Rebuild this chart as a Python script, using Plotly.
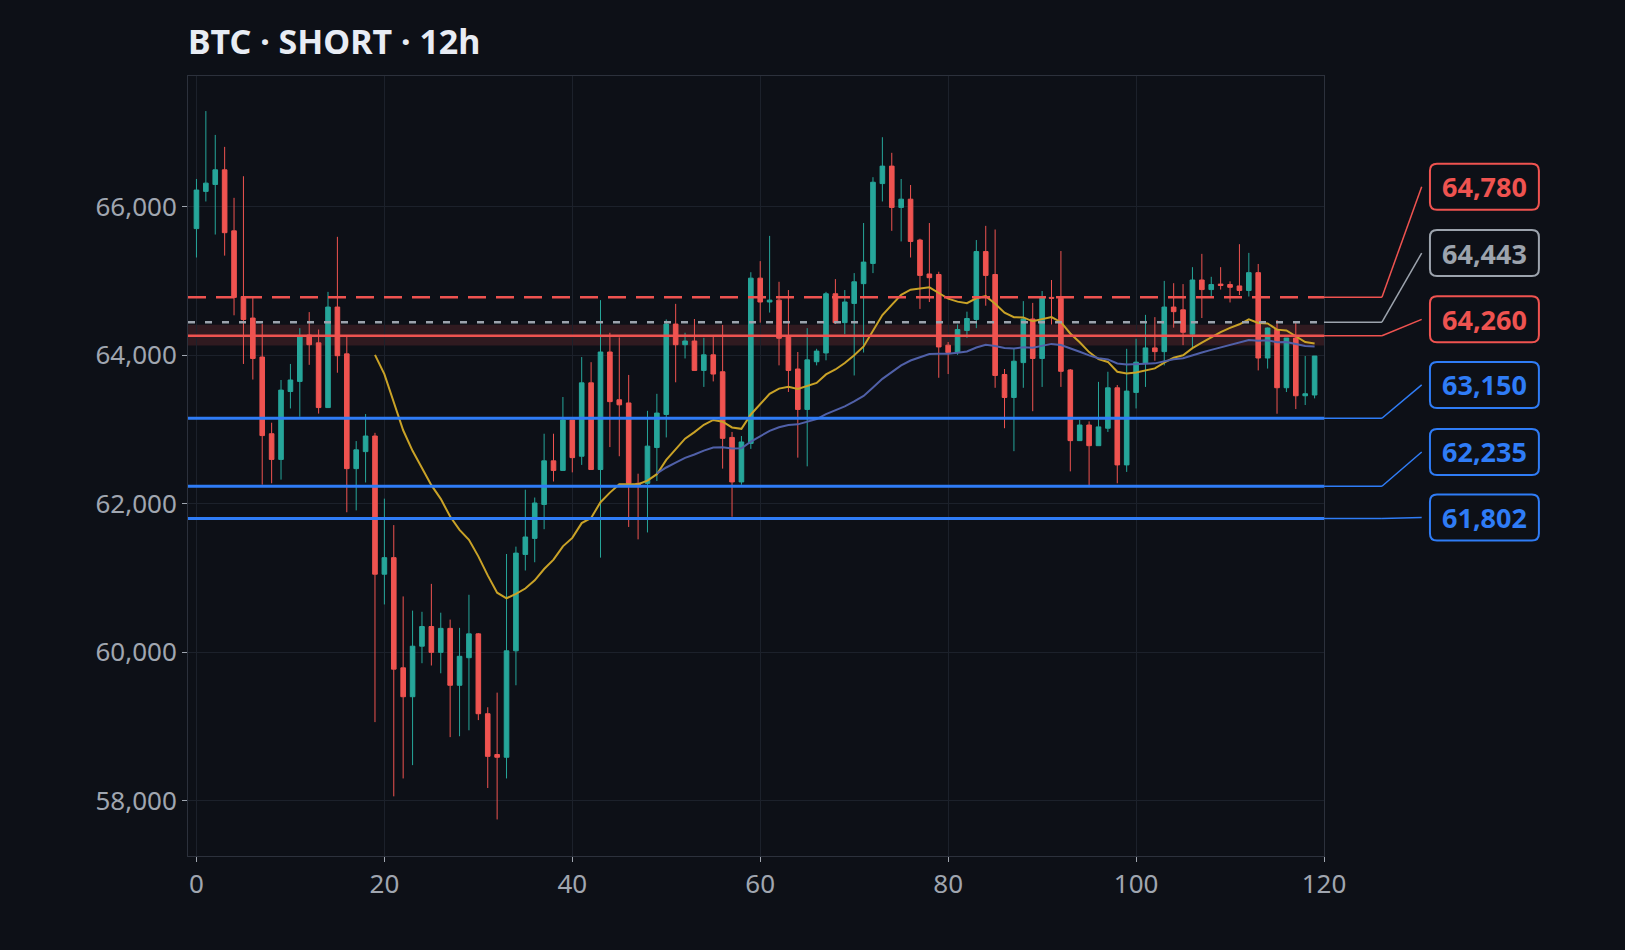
import plotly.graph_objects as go

opens = [65703,66204,66297,66494,65673,64789,64499,63974,62942,62596,63510,63646,64270,64165,63294,64647,64017,62472,62701,62911,
         61051,61274,59791,59402,60082,60347,59999,60322,59556,59927,60248,59173,58624,58587,60020,61317,61533,61990,62577,62448,
         63127,62639,63627,62460,64042,63399,63356,62274,62274,62756,63201,64418,64140,64190,63794,64004,63776,62892,62293,62812,
         65036,64715,64740,64251,63813,63269,63911,64029,64826,64437,64696,64962,65234,66309,66544,65988,66099,65549,65092,65085,
         64134,64035,64332,64480,65394,65085,63739,63430,63899,64486,63955,64777,64765,63800,62849,63059,62781,63016,63560,62522,
         63498,63887,64097,64047,64647,64610,64282,65011,64882,64956,64950,64931,64870,65110,63961,64347,63561,64230,63453,63463]
closes = [66222,66315,66494,65648,64777,64480,63955,62917,62596,63529,63665,64251,64140,63294,64647,63992,62472,62725,62911,61051,
          61274,59773,59402,60082,60347,59999,60322,59556,59946,60248,59173,58599,58587,60020,61335,61552,62009,62577,62448,63127,
          62620,63627,62460,64042,63374,63331,62274,62250,62775,63220,64418,64140,64190,63794,64004,63745,62880,62293,62831,65036,
          64715,64740,64227,63794,63269,63936,64054,64826,64437,64715,64987,65252,66327,66544,65988,66099,65530,65073,65042,64110,
          64035,64344,64493,65394,65073,63726,63430,63918,64486,63955,64777,64765,63782,62849,63059,62781,63034,63560,62522,63516,
          63905,64097,64047,64647,64585,64307,65011,64882,64950,64937,64913,64870,65110,63961,64365,63561,64230,63453,63480,63988]
highs = [66371,67285,66964,66803,66117,66408,64777,64418,63090,63665,63881,64363,64579,64344,64851,65592,64251,62843,63207,62954,
         62068,61712,60752,60561,60545,60921,60533,60440,60329,60774,60260,59260,59457,61323,61422,62188,62083,62942,62942,63436,
         63127,63974,63905,64740,64301,64239,63733,62404,63250,63479,64480,64690,64301,64486,64233,64270,64406,62966,62911,65116,
         65265,65605,64987,64876,64042,64363,64085,64851,65023,64876,65104,65778,66395,66933,66723,66371,66290,65567,65778,65122,
         64177,64412,64585,65549,65740,65691,63813,64085,64727,64703,64863,65011,65401,63813,63127,63108,63640,63776,63597,64085,
         64221,64542,64511,64999,64968,64956,65184,65363,65054,65184,64993,65493,65376,65227,64372,64472,64230,64436,63988,63988]
lows = [65314,66068,65623,65339,64536,63881,63671,62256,62275,62324,63282,63170,63869,63213,63294,63763,61885,61910,62286,59060,
        60644,58061,58302,58481,59853,59822,59717,58858,58870,58950,59087,58173,57750,58302,59556,61101,61212,61657,62299,62448,
        62422,62522,62460,61274,62762,62639,61687,61520,61613,62305,62892,63634,63955,63794,63572,63646,62472,61824,62256,62738,
        64437,64573,63862,63504,62620,62503,63862,63930,64418,64282,63726,64035,65104,66068,65673,65530,65314,64622,64715,63695,
        63745,64004,64233,64363,64665,63560,63016,62707,63560,63245,63572,64412,63572,62435,62849,62244,62781,62966,62275,62428,
        63282,63572,63924,63862,64369,64134,64097,64499,64789,64882,64709,64808,64789,63794,63819,63211,63503,63274,63328,63418]

level_values = [64780, 64443, 64260, 63150, 62235, 61802]
level_labels = ["64,780", "64,443", "64,260", "63,150", "62,235", "61,802"]
level_colors = ["#ef5350", "#9ca3ad", "#ef5350", "#2f7cf6", "#2f7cf6", "#2f7cf6"]
level_dash = ["dash", "dot", "solid", "solid", "solid", "solid"]
zone_low, zone_high = 64130, 64410
label_paper_y = [0.858, 0.773, 0.688, 0.604, 0.518, 0.434]

x = list(range(len(closes)))

def ema(vals, n):
    out = [None] * len(vals)
    k = 2 / (n + 1)
    prev = sum(vals[:n]) / n
    out[n - 1] = prev
    for i in range(n, len(vals)):
        prev = vals[i] * k + prev * (1 - k)
        out[i] = prev
    return out

BG = "#0d1017"
YMIN, YMAX = 57258, 67757
fig = go.Figure()
fig.add_trace(go.Candlestick(
    x=x, open=opens, high=highs, low=lows, close=closes,
    increasing=dict(line=dict(color="#26a69a", width=1), fillcolor="#26a69a"),
    decreasing=dict(line=dict(color="#ef5350", width=1), fillcolor="#ef5350"),
    whiskerwidth=0, showlegend=False, hoverinfo="skip"))
fig.add_trace(go.Scatter(x=x, y=ema(closes, 20), mode="lines",
                         line=dict(color="#c9a227", width=2), showlegend=False))
fig.add_trace(go.Scatter(x=x, y=ema(closes, 50), mode="lines",
                         line=dict(color="#5060a8", width=2), showlegend=False))

PW, PH = 1136.5, 780.0
shapes = [dict(type="rect", xref="x", yref="y", x0=-0.9, x1=120, y0=zone_low, y1=zone_high,
               fillcolor="rgba(239,83,80,0.16)", line=dict(width=0), layer="below")]
annotations = []
bx0, bx1 = (1430 - 187.5) / PW, (1539 - 187.5) / PW
hh = 23 / PH
rx, ry = 7 / PW, 7 / PH
for v, lab, c, d, py in zip(level_values, level_labels, level_colors, level_dash, label_paper_y):
    dash = {"dash": "18px,10px", "dot": "7px,10px"}.get(d, "solid")
    w = 3 if c == "#2f7cf6" else 2.5
    shapes.append(dict(type="line", xref="x", yref="y", x0=-0.9, x1=120, y0=v, y1=v,
                       line=dict(color=c, width=w, dash=dash)))
    shapes.append(dict(type="line", xref="paper", yref="y", x0=1.0, x1=1.051, y0=v, y1=v,
                       line=dict(color=c, width=1.5)))
    shapes.append(dict(type="line", xref="paper", yref="paper", x0=1.051,
                       y0=(v - YMIN) / (YMAX - YMIN), x1=1.086, y1=py,
                       line=dict(color=c, width=1.5)))
    t, b = py + hh, py - hh
    path = (f"M{bx0+rx},{t} L{bx1-rx},{t} Q{bx1},{t} {bx1},{t-ry} L{bx1},{b+ry} Q{bx1},{b} {bx1-rx},{b} "
            f"L{bx0+rx},{b} Q{bx0},{b} {bx0},{b+ry} L{bx0},{t-ry} Q{bx0},{t} {bx0+rx},{t} Z")
    shapes.append(dict(type="path", xref="paper", yref="paper", path=path,
                       line=dict(color=c, width=2), fillcolor=BG))
    annotations.append(dict(xref="paper", yref="paper", x=(bx0 + bx1) / 2, y=py, xanchor="center", yanchor="middle",
                            text="<b>" + lab + "</b>", showarrow=False,
                            font=dict(family="Noto Sans", size=27, color=c)))

fig.update_layout(
    width=1625, height=950, paper_bgcolor=BG, plot_bgcolor=BG,
    margin=dict(l=188, r=301, t=76, b=94),
    title=dict(text="<b>BTC · SHORT · 12h</b>", x=188 / 1625, xanchor="left", y=1 - 42 / 950, yanchor="middle",
               font=dict(family="Noto Sans", size=34, color="#e8ecf4")),
    shapes=shapes, annotations=annotations, font=dict(family="Noto Sans", color="#a0a6b0"),
    xaxis=dict(range=[-0.9, 120], tickvals=[0, 20, 40, 60, 80, 100, 120], rangeslider=dict(visible=False),
               showgrid=True, gridcolor="#1c212b", zeroline=False, showline=True, linecolor="#2c313c",
               mirror=True, ticks="outside", ticklen=5, tickcolor="#a0a6b0", tickfont=dict(size=26, color="#a0a6b0")),
    yaxis=dict(range=[YMIN, YMAX], tickvals=[58000, 60000, 62000, 64000, 66000], tickformat=",",
               showgrid=True, gridcolor="#1c212b", zeroline=False, showline=True, linecolor="#2c313c",
               mirror=True, ticks="outside", ticklen=5, tickcolor="#a0a6b0", tickfont=dict(size=26, color="#a0a6b0")),
)
fig.write_html("out.html", config={"displayModeBar": False})
with open("out.html", encoding="utf-8") as f:
    html = f.read()
html = html.replace("<head>", "<head><style>html,body{margin:0;padding:0;background:#0d1017;}</style>", 1)
with open("out.html", "w", encoding="utf-8") as f:
    f.write(html)
